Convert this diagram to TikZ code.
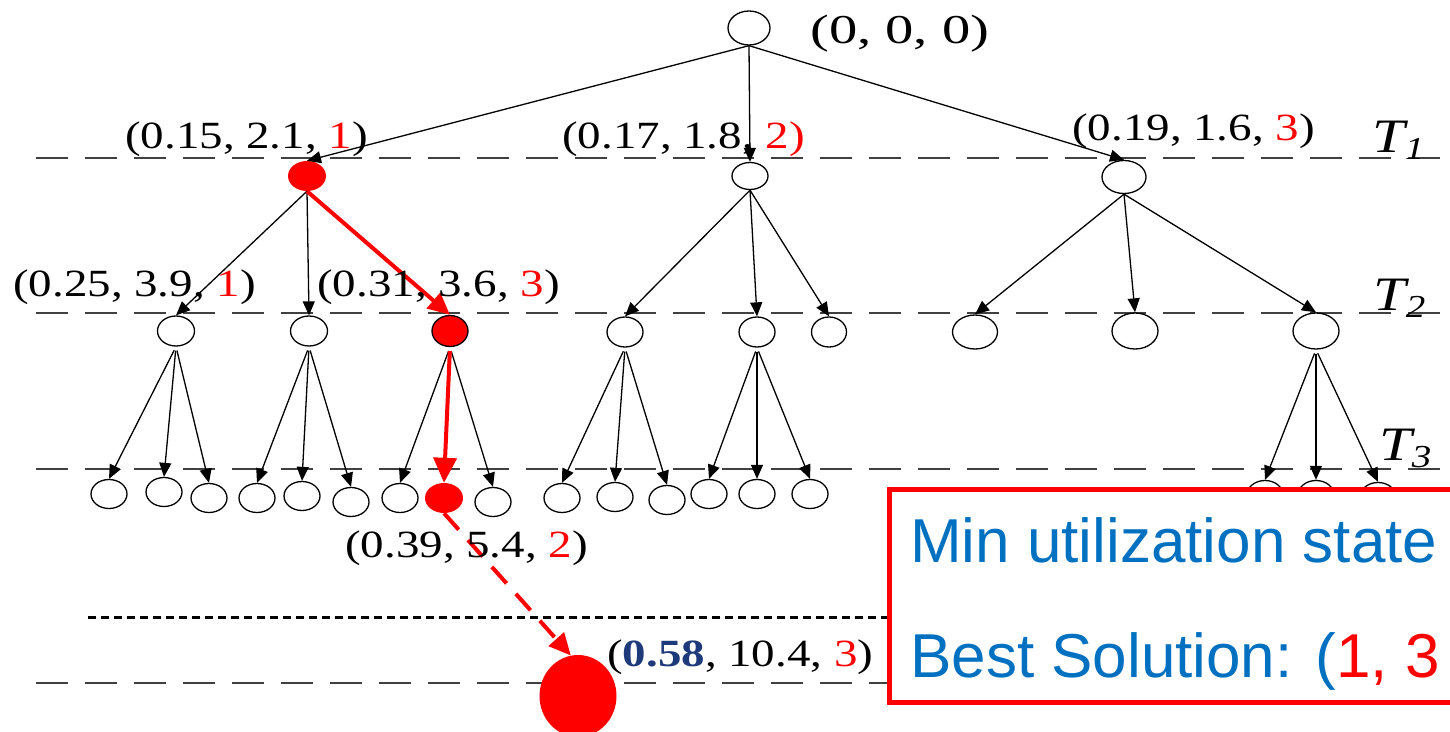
\documentclass[tikz,border=0pt]{standalone}
\usepackage{fontspec}
\usetikzlibrary{shapes.geometric,arrows.meta}
\newfontfamily\lblfont[FakeStretch=1.22]{Liberation Serif}
\newfontfamily\rootfont[FakeStretch=1.38]{Liberation Serif}
\newfontfamily\boxfont{Liberation Sans}
\definecolor{boxblue}{HTML}{0070C0}
\definecolor{navyc}{HTML}{1F3A7A}
\begin{document}
\begin{tikzpicture}[x=1pt,y=-1pt,
  st/.style={ellipse, draw=black, line width=1.3pt, fill=white, inner sep=0pt,
             minimum width=37pt, minimum height=30pt},
  sz/.style 2 args={minimum width=#1pt, minimum height=#2pt},
  hot/.style={ellipse, fill=red, draw=none, inner sep=0pt,
              minimum width=38pt, minimum height=30pt},
  edg/.style={-{Triangle[length=14pt,width=12pt]}, line width=1.3pt, black},
  redg/.style={-{Triangle[length=22pt,width=20pt]}, line width=4pt, red},
  lvl/.style={black!75, line width=1.8pt, dash pattern=on 32pt off 17pt},
  dotl/.style={black, line width=3pt, dash pattern=on 8pt off 5pt},
  lbl/.style={inner sep=0pt, anchor=base west, font=\lblfont\fontsize{38.5}{40}\selectfont},
  tlbl/.style={inner sep=0pt, anchor=base west, font=\lblfont\itshape\fontsize{48}{50}\selectfont},
  btxt/.style={inner sep=0pt, anchor=base west, text=boxblue, font=\boxfont\fontsize{62}{70}\selectfont}
]
\useasboundingbox (0,0) rectangle (1450,731);
\clip (0,0) rectangle (1450,731);

% level lines
\draw[lvl] (36,158) -- (1450,158);
\draw[lvl] (36,313) -- (1450,313);
\draw[lvl] (36,469) -- (1450,469);
\draw[lvl] (36,683) -- (889,683);
\draw[dotl] (88,617) -- (889,617);

% nodes
\node[st, sz={42}{34}] (root) at (749,28) {};
\node[hot] (a1) at (307,176) {};
\node[st, sz={36}{27}] (a2) at (750,176) {};
\node[st, sz={44}{33}] (a3) at (1124,177) {};

\node[st] (b1) at (176,331) {};
\node[st] (b2) at (309,331) {};
\node[st, fill=red, sz={36}{31}] (b3) at (450,331) {};
\node[st, sz={36}{30}] (b4) at (625,332) {};
\node[st, sz={36}{30}] (b5) at (757,332) {};
\node[st, sz={35}{30}] (b6) at (829,332) {};
\node[st, sz={45}{34}] (b7) at (975,332) {};
\node[st, sz={46}{36}] (b8) at (1135,331) {};
\node[st, sz={46}{36}] (b9) at (1316,331) {};

\node[st, sz={36}{29}] (c1) at (109,494) {};
\node[st, sz={36}{29}] (c2) at (164,492) {};
\node[st, sz={36}{29}] (c3) at (209,498) {};
\node[st, sz={36}{29}] (c4) at (257,498) {};
\node[st, sz={36}{29}] (c5) at (302,496) {};
\node[st, sz={36}{29}] (c6) at (351,502) {};
\node[st, sz={36}{29}] (c7) at (400,498) {};
\node[hot, sz={38}{30}] (c8) at (444,498) {};
\node[st, sz={36}{29}] (c9) at (493,502) {};
\node[st, sz={36}{29}] (c10) at (562,498) {};
\node[st, sz={36}{29}] (c11) at (615,497) {};
\node[st, sz={36}{29}] (c12) at (667,500) {};
\node[st, sz={36}{29}] (c13) at (709,494) {};
\node[st, sz={36}{29}] (c14) at (757,494) {};
\node[st, sz={36}{29}] (c15) at (810,494) {};
\node[st, sz={36}{29}] (c16) at (1265,495) {};
\node[st, sz={36}{29}] (c17) at (1316,495) {};
\node[st, sz={36}{29}] (c18) at (1378,497) {};

\node[hot, sz={77}{82}] (big) at (578,696) {};

% edges
\foreach \p/\c in {root/a1, root/a2, root/a3, a1/b1, a1/b2, a2/b4, a2/b5, a2/b6, a3/b7, a3/b8, a3/b9}
  \draw[edg] (\p.south) -- (\c.north);
\foreach \p/\c in {b1/c1, b1/c2, b1/c3, b2/c4, b2/c5, b2/c6, b3/c7, b3/c9, b4/c10, b4/c11, b4/c12, b5/c13, b5/c14, b5/c15, b9/c16, b9/c17, b9/c18}
  \draw[edg, shorten <=4pt] (\p.south) -- (\c.north);
\draw[redg] (a1.south) -- (b3.north);
\draw[redg, -{Triangle[length=25pt,width=23pt]}, shorten <=4pt] (b3.south) -- (c8.north);
\draw[redg, dash pattern=on 22pt off 14pt] (c8.south) -- (big.100);

% labels
\node[inner sep=0pt, anchor=base west, font=\rootfont\fontsize{41}{44}\selectfont] (l0) at (810,43) {(0, 0, 0)};
\node[lbl] (l1) at (125,148) {(0.15, 2.1, \textcolor{red}{1})};
\node[lbl] (l2) at (562,148) {(0.17, 1.8, \textcolor{red}{2)}};
\node[lbl] (l3) at (1072,140) {(0.19, 1.6, \textcolor{red}{3})};
\node[lbl] (l4) at (13,296) {(0.25, 3.9, \textcolor{red}{1})};
\node[lbl] (l5) at (317,296) {(0.31, 3.6, \textcolor{red}{3})};
\node[lbl] (l6) at (345,557) {(0.39, 5.4, \textcolor{red}{2})};
\node[lbl] (l7) at (607,666) {(\textcolor{navyc}{\bfseries 0.58}, 10.4, \textcolor{red}{3})};

\node[tlbl] (t1) at (1372,152) {T\raisebox{-7pt}{\fontsize{32}{32}\selectfont 1}};
\node[tlbl] (t2) at (1373,310) {T\raisebox{-7pt}{\fontsize{32}{32}\selectfont 2}};
\node[tlbl] (t3) at (1379,460) {T\raisebox{-7pt}{\fontsize{32}{32}\selectfont 3}};

% result box
\draw[red, line width=5pt, fill=white] (889,489) rectangle (1480,702);
\node[btxt] (bt1) at (910,562) {Min utilization state};
\node[btxt] (bt2) at (910,677) {Best Solution: (\textcolor{red}{1, 3}};
\end{tikzpicture}
\end{document}
